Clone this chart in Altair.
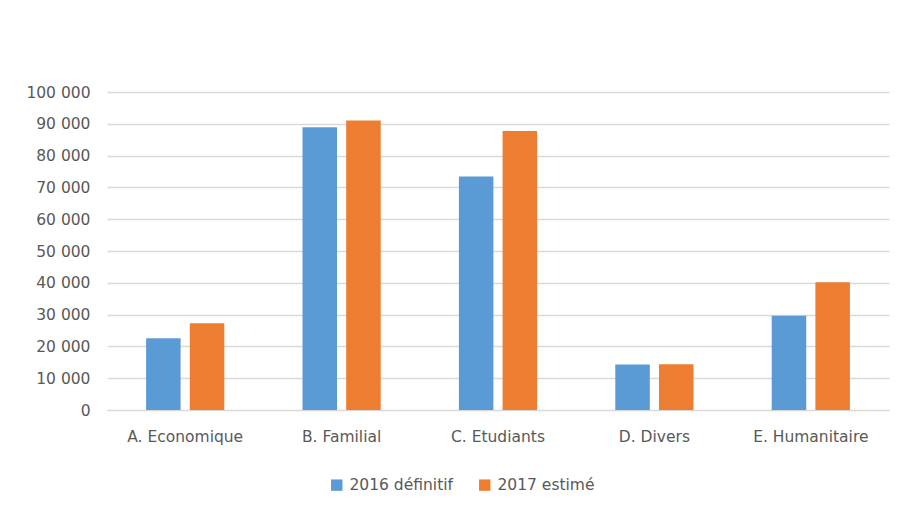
import altair as alt
import pandas as pd

categories = ["A. Economique", "B. Familial", "C. Etudiants", "D. Divers", "E. Humanitaire"]
series = ["2016 définitif", "2017 estimé"]
values_2016 = [22600, 88900, 73400, 14300, 29600]
values_2017 = [27300, 91000, 87700, 14400, 40200]

rows = []
for c, a, b in zip(categories, values_2016, values_2017):
    rows.append({"cat": c, "serie": series[0], "val": a})
    rows.append({"cat": c, "serie": series[1], "val": b})
df = pd.DataFrame(rows)

FONT = "DejaVu Sans"
GRAY = "#595959"
FS = 15.5

chart = alt.Chart(df).mark_bar().encode(
    x=alt.X("cat:N", sort=categories, title=None,
            scale=alt.Scale(paddingInner=0.5, paddingOuter=0.25),
            axis=alt.Axis(labelAngle=0, ticks=False, domain=True, domainColor="#d9d9d9",
                          labelPadding=19, labelFontSize=FS, labelColor=GRAY, labelFont=FONT)),
    xOffset=alt.XOffset("serie:N", sort=series, scale=alt.Scale(paddingInner=0.21)),
    y=alt.Y("val:Q", title=None,
            scale=alt.Scale(domain=[0, 100000]),
            axis=alt.Axis(values=list(range(0, 100001, 10000)), domain=False, ticks=False,
                          labelPadding=17, labelFontSize=FS, labelColor=GRAY, labelFont=FONT,
                          gridColor="#d9d9d9", gridWidth=1.5,
                          labelExpr="replace(format(datum.value, ',d'), ',', ' ')")),
    color=alt.Color("serie:N", sort=series,
                    scale=alt.Scale(domain=series, range=["#5B9BD5", "#ED7D31"]),
                    legend=alt.Legend(title=None, orient="none", direction="horizontal",
                                      legendX=222, legendY=385, symbolType="square",
                                      symbolSize=130, symbolStrokeWidth=0,
                                      labelFontSize=FS, labelColor=GRAY, labelFont=FONT,
                                      columnPadding=24, labelOffset=5)),
).properties(
    width=782, height=318,
    autosize=alt.AutoSizeParams(type="none"),
    padding={"left": 99, "top": 84, "right": 7, "bottom": 102},
).configure_view(stroke=None)

chart.save("out.html", embed_options={"renderer": "svg", "actions": False})
